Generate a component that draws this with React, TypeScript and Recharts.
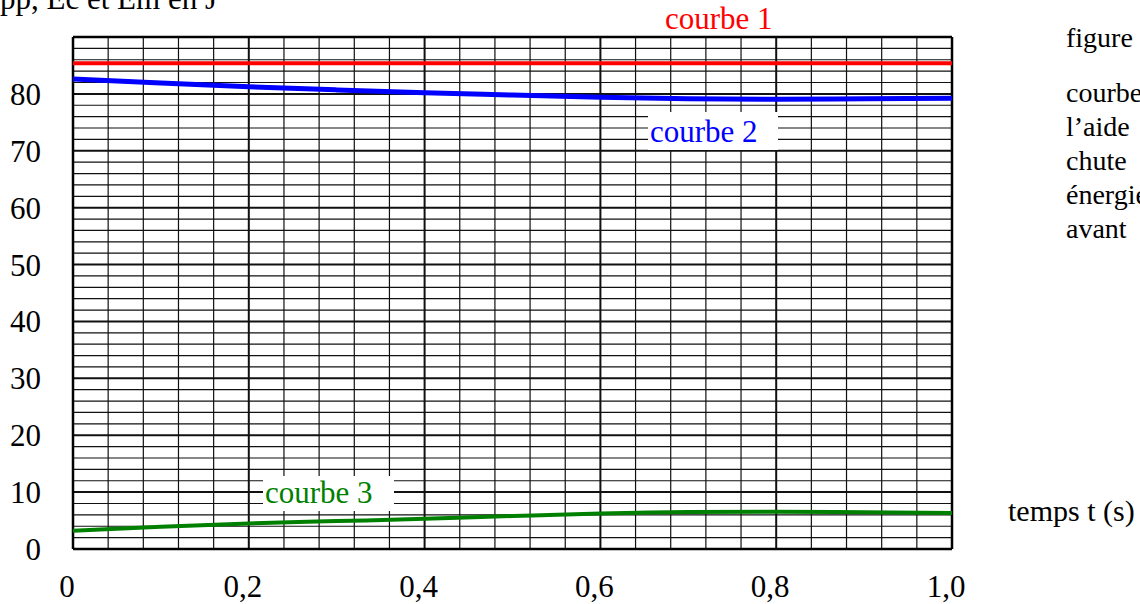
import React from 'react';
import { LineChart, Line, XAxis, YAxis, ReferenceLine } from 'recharts';

const T = [0, 0.1, 0.2, 0.3, 0.4, 0.5, 0.6, 0.7, 0.8, 0.9, 1.0];
const COURBE1 = [85.4, 85.4, 85.4, 85.4, 85.4, 85.4, 85.4, 85.4, 85.4, 85.4, 85.4];
const COURBE2 = [82.6, 81.9, 81.25, 80.7, 80.2, 79.8, 79.4, 79.15, 79.05, 79.15, 79.25];
const COURBE3 = [3.2, 3.9, 4.5, 4.9, 5.3, 5.8, 6.25, 6.5, 6.55, 6.45, 6.35];

const X_TICKS = [0, 0.2, 0.4, 0.6, 0.8, 1.0];
const Y_TICKS = [0, 10, 20, 30, 40, 50, 60, 70, 80];
const X_MINOR = Array.from({ length: 26 }, (_, i) => Math.round(i * 4) / 100);
const Y_MINOR = Array.from({ length: 46 }, (_, i) => i * 2);

const RIGHT_TEXT = ['courbes', 'l’aide', 'chute', 'énergie', 'avant'];

const data = T.map((t, i) => ({ t, c1: COURBE1[i], c2: COURBE2[i], c3: COURBE3[i] }));

const FONT = 'Liberation Serif, Times New Roman, serif';

export default function App() {
  return (
    <div style={{ position: 'absolute', left: 0, top: 0, width: 1140, height: 604, background: '#fff' }}>
      <LineChart
        width={1140}
        height={604}
        data={data}
        margin={{ top: 37, right: 188, bottom: 25, left: 13 }}
      >
        <XAxis
          dataKey="t"
          type="number"
          domain={[0, 1]}
          ticks={X_TICKS}
          axisLine={false}
          tickLine={false}
          tickSize={0}
          tickMargin={26}
          height={30}
          interval={0}
          tickFormatter={(v: number) => (v === 0 ? '0' : v.toFixed(1).replace('.', ','))}
          tick={{ fontSize: 31, fontFamily: FONT, fill: '#000', dx: -6 }}
        />
        <YAxis
          type="number"
          domain={[0, 90]}
          ticks={Y_TICKS}
          axisLine={false}
          tickLine={false}
          tickSize={0}
          tickMargin={32}
          width={60}
          interval={0}
          tick={{ fontSize: 31, fontFamily: FONT, fill: '#000' }}
        />
        {Y_MINOR.map((v) => (
          <ReferenceLine key={'ym' + v} y={v} stroke="#111" strokeWidth={v % 10 === 0 ? 2 : 1.2} ifOverflow="visible" />
        ))}
        {X_MINOR.map((v, i) => (
          <ReferenceLine key={'xm' + i} x={v} stroke="#111" strokeWidth={i % 5 === 0 ? 2 : 1.2} ifOverflow="visible" />
        ))}
        <ReferenceLine y={90} stroke="#000" strokeWidth={2.5} ifOverflow="visible" />
        <ReferenceLine y={0} stroke="#000" strokeWidth={2.5} ifOverflow="visible" />
        <ReferenceLine x={0} stroke="#000" strokeWidth={2.5} ifOverflow="visible" />
        <ReferenceLine x={1} stroke="#000" strokeWidth={2.5} ifOverflow="visible" />
        <Line type="monotone" dataKey="c1" stroke="#ff0000" strokeWidth={4} dot={false} isAnimationActive={false} />
        <Line type="monotone" dataKey="c2" stroke="#0000ff" strokeWidth={5} dot={false} isAnimationActive={false} />
        <Line type="monotone" dataKey="c3" stroke="#008000" strokeWidth={4} dot={false} isAnimationActive={false} />
      </LineChart>
      <svg
        width={1140}
        height={604}
        style={{ position: 'absolute', left: 0, top: 0, pointerEvents: 'none' }}
        fontFamily={FONT}
      >
        <text x={217} y={9} fontSize={31} textAnchor="end" fill="#000">Epp, Ec et Em en J</text>
        <text x={665} y={29} fontSize={31} fill="#ff0000">courbe 1</text>
        <rect x={648} y={112} width={130} height={38} fill="#fff" />
        <text x={650} y={142} fontSize={31} fill="#0000ff">courbe 2</text>
        <rect x={263} y={476} width={131} height={35} fill="#fff" />
        <text x={265} y={503} fontSize={31} fill="#008000">courbe 3</text>
        <text x={1066} y={47} fontSize={28} fill="#000">figure</text>
        {RIGHT_TEXT.map((s, i) => (
          <text key={s} x={1066} y={102 + i * 34} fontSize={28} fill="#000">{s}</text>
        ))}
        <text x={1008} y={521} fontSize={30} fill="#000">temps t (s)</text>
      </svg>
    </div>
  );
}
